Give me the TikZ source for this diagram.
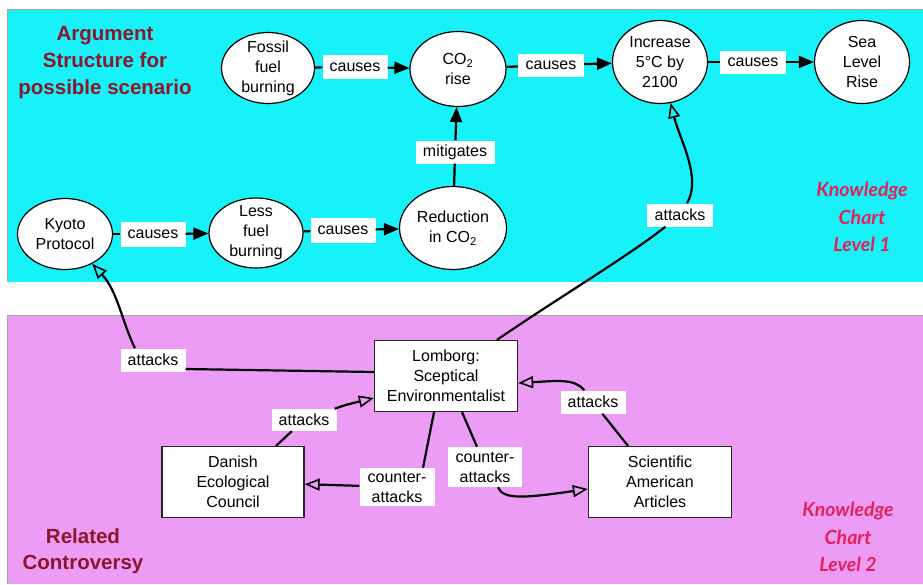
\documentclass[tikz,border=0pt]{standalone}
\usepackage{fontspec}
\setmainfont{Liberation Sans}
\newfontfamily\kfont{Lato}
\usetikzlibrary{arrows.meta,shapes.geometric}
\definecolor{cyanbg}{RGB}{22,242,248}
\definecolor{pinkbg}{RGB}{236,156,244}
\definecolor{titlered}{RGB}{140,22,42}
\definecolor{kpink}{RGB}{226,34,92}
\begin{document}
\begin{tikzpicture}[x=1pt,y=-1pt,
  every node/.style={font=\fontsize{16}{20}\selectfont, align=center},
  ell/.style={ellipse, draw, fill=white, line width=1.2pt, inner xsep=0pt, inner ysep=-6pt},
  box/.style={rectangle, draw=black!85, fill=white, line width=1.3pt, inner sep=0pt,
    minimum width=143pt, minimum height=71pt},
  lbl/.style={rectangle, fill=white, inner sep=0pt, minimum height=23pt},
  link/.style={line width=2.2pt},
  cause/.style={link, -{Triangle[length=15pt,width=12pt]}},
  attack/.style={link, -{Triangle[open,length=15pt,width=12pt,line width=1.6pt]}},
  title/.style={font=\fontsize{20.5}{27}\selectfont\bfseries, text=titlered},
  know/.style={font=\kfont\bfseries\itshape\fontsize{19.5}{27.5}\selectfont, text=kpink}
]
\useasboundingbox (0,0) rectangle (923,584);
\fill[white] (0,0) rectangle (923,584);
\fill[cyanbg] (7,9) rectangle (923,282);
\fill[pinkbg] (7,315) rectangle (923,584);
\draw[black!35, line width=0.8pt] (7,282) -- (7,9) -- (923,9);
\draw[black!35, line width=0.8pt] (7,584) -- (7,315) -- (923,315);

% titles
\node[title] (t1) at (105,63) {Argument\\Structure for\\possible scenario};
\node[title, font=\fontsize{20.5}{26}\selectfont\bfseries] (t2) at (83,551) {Related\\Controversy};
\node[know] (k1) at (862,217) {Knowledge\\Chart\\Level 1};
\node[know] (k2) at (848,537) {Knowledge\\Chart\\Level 2};

% level 1 nodes
\node[ell, minimum width=93pt, minimum height=71pt] (fossil) at (268,68) {Fossil\\fuel\\burning};
\node[ell, minimum width=96pt, minimum height=75pt] (co2) at (458,69) {CO\textsubscript{2}\\rise};
\node[ell, minimum width=95pt, minimum height=83pt] (incr) at (660,62) {Increase\\5°C by\\2100};
\node[ell, minimum width=95pt, minimum height=83pt] (sea) at (862,62) {Sea\\Level\\Rise};
\node[ell, minimum width=95pt, minimum height=71pt] (kyoto) at (65,234) {Kyoto\\Protocol};
\node[ell, minimum width=94pt, minimum height=70pt] (less) at (256,233) {Less\\fuel\\burning};
\node[ell, minimum width=107pt, minimum height=83pt] (reduc) at (453,228) {Reduction\\in CO\textsubscript{2}};

% level 2 nodes
\node[box] (lomborg) at (446,376) {Lomborg:\\Sceptical\\Environmentalist};
\node[box, minimum width=142pt] (danish) at (233,482) {Danish\\Ecological\\Council};
\node[box] (sci) at (660,482) {Scientific\\American\\Articles};

% labels
\node[lbl, minimum width=65pt, minimum height=24pt] (c1) at (355,67) {causes};
\node[lbl, minimum width=66pt] (c2) at (551,65) {causes};
\node[lbl, minimum width=66pt] (c3) at (753,62) {causes};
\node[lbl, minimum width=65pt, minimum height=25pt] (c4) at (153,234) {causes};
\node[lbl, minimum width=65pt, minimum height=25pt] (c5) at (343,230) {causes};
\node[lbl, minimum width=79pt] (mit) at (455,152) {mitigates};
\node[lbl, minimum width=66pt] (att1) at (680,215) {attacks};
\node[lbl, minimum width=65pt] (att2) at (153,360) {attacks};
\node[lbl, minimum width=65pt, minimum height=22pt] (att3) at (304,420) {attacks};
\node[lbl, minimum width=75pt, minimum height=38pt] (ca1) at (397,487) {counter-\\attacks};
\node[lbl, minimum width=74pt, minimum height=40pt] (ca2) at (485,467) {counter-\\attacks};
\node[lbl, minimum width=65pt] (att4) at (593,402) {attacks};

% causes chain
\draw[link] (fossil) -- (c1);
\draw[cause] (c1) -- (co2);
\draw[link] (co2) -- (c2);
\draw[cause] (c2) -- (incr);
\draw[link] (incr) -- (c3);
\draw[cause] (c3) -- (sea);
\draw[link] (kyoto) -- (c4);
\draw[cause] (c4) -- (less);
\draw[link] (less) -- (c5);
\draw[cause] (c5) -- (reduc);
\draw[link] (reduc) -- (mit);
\draw[cause] (mit) -- (co2);

% attacks
\draw[link] ([xshift=51pt]lomborg.north) .. controls (555,300) and (630,255) .. (att1);
\draw[attack] (att1) .. controls (702,178) and (680,140) .. (incr);
\draw[link] ([yshift=4pt]lomborg.west) -- ([yshift=-9pt]att2.east);
\draw[attack] ([xshift=-18pt]att2.north) .. controls (122,322) and (118,292) .. (kyoto);
\draw[link] ([xshift=43pt]danish.north) -- (att3);
\draw[attack] (att3) .. controls (345,405) .. ([yshift=-22pt]lomborg.west);
\draw[link] ([xshift=-12pt]lomborg.south) -- ([xshift=26pt]ca1.north);
\draw[attack] (ca1) -- (danish);
\draw[link] ([xshift=16pt]lomborg.south) -- ([xshift=-8pt]ca2.north);
\draw[attack] ([xshift=13pt]ca2.south) .. controls (503,500) and (525,498) .. ([yshift=-7pt]sci.west);
\draw[link] ([xshift=-32pt]sci.north) -- (att4);
\draw[attack] (att4) .. controls (575,378) and (555,381) .. ([yshift=-7pt]lomborg.east);
\end{tikzpicture}
\end{document}
